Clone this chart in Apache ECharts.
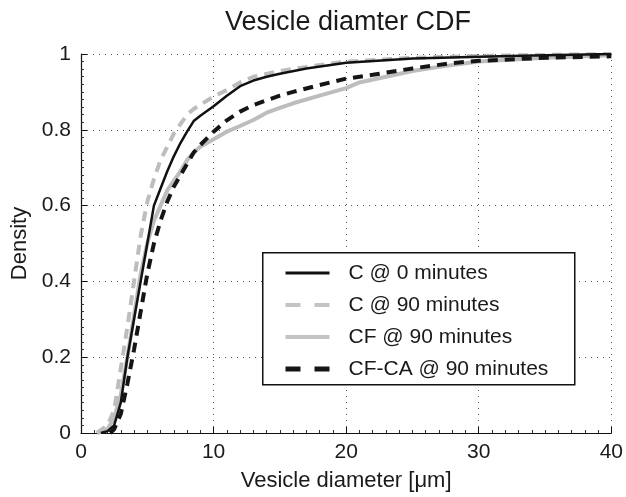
<!DOCTYPE html>
<html>
<head>
<meta charset="utf-8">
<script src="https://cdn.jsdelivr.net/npm/echarts@6/dist/echarts.min.js"></script>
<style>html,body{margin:0;padding:0;background:#fff;}#chart{width:626px;height:497px;}</style>
</head>
<body>
<div id="chart"></div>
<script>
// Series names
var seriesNames = ['C @ 0 minutes', 'C @ 90 minutes', 'CF @ 90 minutes', 'CF-CA @ 90 minutes'];
// C @ 0 minutes : [diameter, density]
var c0 = [[1.5,0],[2,0.005],[2.5,0.02],[3,0.08],[3.5,0.2],[4,0.3],[4.5,0.4],[5,0.5],[5.5,0.6],[6,0.645],[6.5,0.69],[7,0.73],[7.5,0.765],[8,0.795],[8.5,0.823],[9,0.837],[10,0.862],[11,0.89],[12,0.915],[13,0.93],[14,0.94],[15,0.948],[17,0.962],[20,0.977],[25,0.988],[30,0.993],[35,0.997],[40,1]];
// C @ 90 minutes
var c90 = [[1.2,0],[2,0.02],[2.5,0.06],[3,0.17],[3.5,0.28],[4,0.4],[4.5,0.52],[5,0.61],[5.5,0.67],[6,0.72],[6.5,0.755],[7,0.79],[7.5,0.815],[8,0.84],[8.5,0.855],[9,0.866],[10,0.888],[11,0.905],[12,0.925],[13,0.94],[15,0.955],[17,0.966],[20,0.98],[25,0.99],[30,0.995],[40,1]];
// CF @ 90 minutes
var cf90 = [[1.2,0],[2,0.01],[2.5,0.04],[3,0.1],[3.5,0.2],[4,0.31],[4.5,0.42],[5,0.5],[5.5,0.56],[6,0.6],[6.5,0.64],[7,0.665],[7.5,0.69],[8,0.72],[8.5,0.74],[9,0.755],[10,0.775],[11,0.795],[12,0.81],[13,0.826],[14,0.845],[15,0.858],[16,0.87],[18,0.89],[20,0.91],[21,0.925],[23,0.94],[25,0.955],[27,0.966],[30,0.98],[35,0.99],[40,0.997]];
// CF-CA @ 90 minutes
var cfca90 = [[2.2,0],[2.5,0.01],[3,0.05],[3.5,0.13],[4,0.22],[4.5,0.32],[5,0.42],[5.5,0.5],[6,0.56],[6.5,0.61],[7,0.65],[7.5,0.68],[8,0.71],[8.5,0.74],[9,0.76],[10,0.795],[11,0.825],[12,0.848],[13,0.865],[14,0.878],[15,0.89],[16,0.9],[18,0.918],[20,0.935],[22,0.945],[25,0.962],[28,0.976],[30,0.982],[35,0.99],[40,0.994]];
// Tick values
var xTicks = [0, 10, 20, 30, 40];
var yTicks = [0, 0.2, 0.4, 0.6, 0.8, 1];

var FONT = '"Liberation Sans", Arial, Helvetica, sans-serif';
var chart = echarts.init(document.getElementById('chart'));
var styles = [
  {color: '#111111', width: 2.5, type: 'solid'},
  {color: '#bdbdbd', width: 4, type: [10, 7]},
  {color: '#bdbdbd', width: 4, type: 'solid'},
  {color: '#151515', width: 4, type: [10, 7]}
];
var legendStyles = [
  {color: '#111111', width: 3, type: 'solid'},
  {color: '#c4c4c4', width: 4, type: [15, 14]},
  {color: '#c4c4c4', width: 4, type: 'solid'},
  {color: '#151515', width: 5, type: [15, 14]}
];
var datasets = [c0, c90, cf90, cfca90];
var order = [2, 1, 3, 0];
var series = order.map(function (i) {
  return {
    name: seriesNames[i], type: 'line', data: datasets[i], symbol: 'none',
    lineStyle: styles[i], itemStyle: {color: styles[i].color},
    z: 2 + (i === 0 ? 0.3 : i === 3 ? 0.2 : 0.1),
    animation: false
  };
});
chart.setOption({
  backgroundColor: '#ffffff',
  animation: false,
  title: {
    text: 'Vesicle diamter CDF', left: 348, top: 9, textAlign: 'center', padding: 0,
    textStyle: {fontFamily: FONT, fontSize: 27, fontWeight: 'normal', color: '#1a1a1a'}
  },
  grid: {left: 81, right: 10, top: 54, bottom: 59, containLabel: false},
  legend: {
    data: seriesNames.map(function (n, i) { return {name: n, lineStyle: legendStyles[i]}; }),
    orient: 'vertical', left: 283, top: 262, z: 20,
    itemWidth: 44, itemHeight: 14, itemGap: 10, padding: 0,
    itemStyle: {opacity: 0},
    textStyle: {fontFamily: FONT, fontSize: 21, color: '#1a1a1a', lineHeight: 22, padding: [0, 0, 0, 14]},
    backgroundColor: 'transparent', selectedMode: false
  },
  graphic: [{
    type: 'rect', left: 262, top: 252, z: 10,
    shape: {width: 312, height: 132},
    style: {fill: '#ffffff', stroke: '#111', lineWidth: 1.5}
  }],
  xAxis: {
    type: 'value', min: xTicks[0], max: xTicks[xTicks.length - 1], interval: 10,
    name: 'Vesicle diameter [μm]', nameLocation: 'middle', nameGap: 37,
    nameTextStyle: {fontFamily: FONT, fontSize: 22, color: '#1a1a1a'},
    axisLine: {show: true, onZero: false, lineStyle: {color: '#111', width: 1.2}},
    axisTick: {show: true, inside: true, length: 6, lineStyle: {color: '#111'}},
    minorTick: {show: true, splitNumber: 10, length: 3, lineStyle: {color: '#333'}},
    axisLabel: {fontFamily: FONT, fontSize: 21, color: '#1a1a1a', margin: 9},
    splitLine: {show: true, lineStyle: {color: '#555', type: [1, 5], width: 1}}
  },
  yAxis: {
    type: 'value', min: yTicks[0], max: yTicks[yTicks.length - 1], interval: 0.2,
    name: 'Density', nameLocation: 'middle', nameGap: 50,
    nameTextStyle: {fontFamily: FONT, fontSize: 22, color: '#1a1a1a'},
    axisLine: {show: true, lineStyle: {color: '#111', width: 1.2}},
    axisTick: {show: true, inside: true, length: 6, lineStyle: {color: '#111'}},
    minorTick: {show: true, splitNumber: 10, length: 3, lineStyle: {color: '#333'}},
    axisLabel: {fontFamily: FONT, fontSize: 21, color: '#1a1a1a', margin: 10,
      formatter: function (v) { return String(+v.toFixed(1)); }},
    splitLine: {show: true, lineStyle: {color: '#555', type: [1, 5], width: 1}}
  },
  series: series
});
</script>
</body>
</html>
